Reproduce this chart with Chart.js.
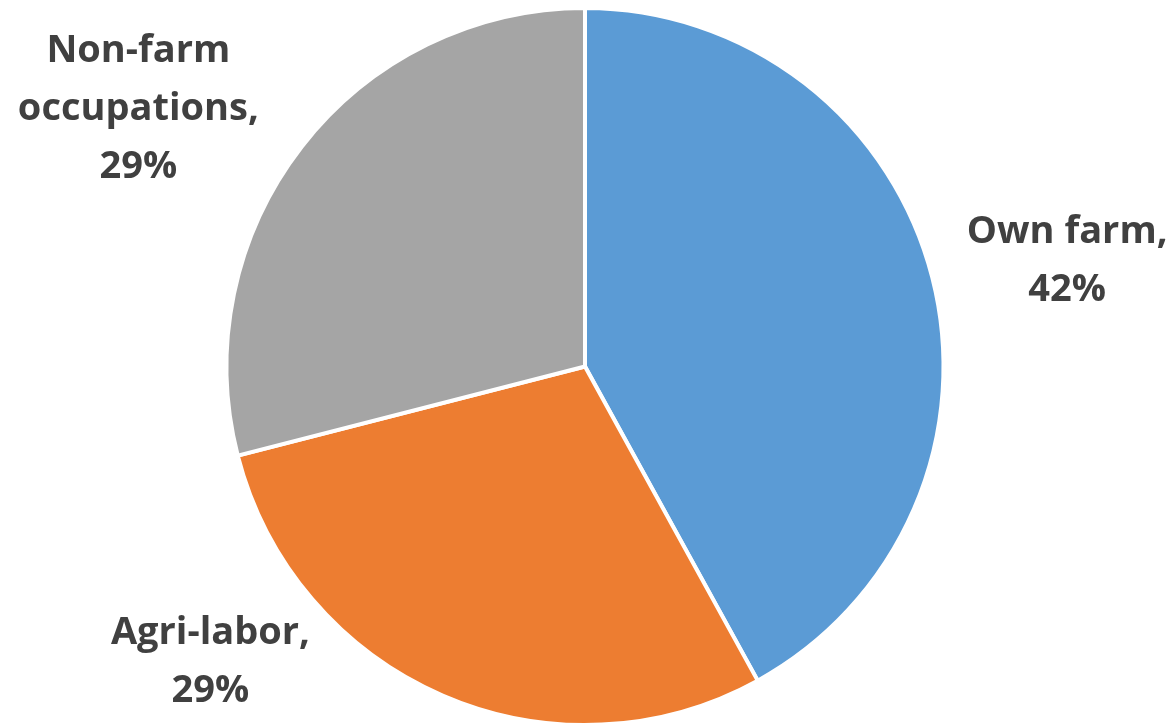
<!DOCTYPE html>
<html>
<head>
<meta charset="utf-8">
<script src="https://cdn.jsdelivr.net/npm/chart.js@4.4.1/dist/chart.umd.min.js"></script>
<style>
  html, body { margin: 0; padding: 0; background: #fff; overflow: hidden; }
  #wrap { width: 1175px; height: 727px; position: relative; }
</style>
</head>
<body>
<div id="wrap"><canvas id="pie-chart-canvas"></canvas></div>
<script>
const categories = ['Own farm', 'Agri-labor', 'Non-farm occupations'];
const shares = [42, 29, 29];
const sliceColors = ['#5B9BD5', '#ED7D31', '#A5A5A5'];
// label text lines per slice
const labelLines = [
    ['Own farm,', '42%'],
    ['Agri-labor,', '29%'],
    ['Non-farm', 'occupations,', '29%']
];
// label block centre, in units of the pie radius from the pie centre
const labelOffsets = [[1.345, -0.294], [-1.045, 0.824], [-1.246, -0.717]];

const outsideLabels = {
    id: 'outsideLabels',
    afterDraw(chart) {
        const ctx = chart.ctx;
        const arcs = chart.getDatasetMeta(0).data;
        ctx.save();
        ctx.font = 'bold 38px "Open Sans"';
        ctx.fillStyle = '#404040';
        ctx.textAlign = 'center';
        ctx.textBaseline = 'middle';
        const lineH = 58;
        arcs.forEach((arc, i) => {
            const r = arc.outerRadius;
            const cx = arc.x + labelOffsets[i][0] * r;
            const cy = arc.y + labelOffsets[i][1] * r;
            const lines = labelLines[i];
            const top = cy - (lines.length - 1) * lineH / 2;
            lines.forEach((t, j) => ctx.fillText(t, cx, top + j * lineH));
        });
        ctx.restore();
    }
};

const context = document.getElementById('pie-chart-canvas');
const pieChart = new Chart(context, {
    type: 'pie',
    data: {
        labels: categories,
        datasets: [{
            data: shares,
            backgroundColor: sliceColors,
            borderColor: '#ffffff',
            borderWidth: 4
        }]
    },
    options: {
        responsive: true,
        maintainAspectRatio: false,
        animation: false,
        layout: { padding: { top: 6, bottom: 0, left: 0, right: 5 } },
        plugins: {
            legend: { display: false },
            tooltip: { enabled: false }
        }
    },
    plugins: [outsideLabels]
});
</script>
</body>
</html>
